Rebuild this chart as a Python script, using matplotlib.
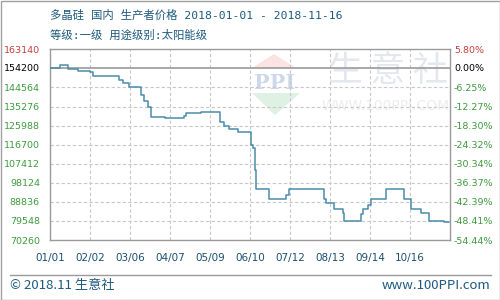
import matplotlib
matplotlib.use("Agg")
import matplotlib.pyplot as plt
from matplotlib.patches import Polygon, Rectangle
import pandas as pd

# ---- data ----
change_dates = ["01-01", "01-09", "01-15", "01-23", "02-02", "02-04", "02-25", "02-28",
                "03-05", "03-15", "03-17", "03-20", "03-23", "04-03", "04-18", "04-20",
                "05-02", "05-17", "05-20", "05-24", "05-31", "06-11", "06-12", "06-14",
                "06-15", "06-25", "07-09", "07-11", "08-08", "08-10", "08-16", "08-23",
                "08-24", "09-07", "09-08", "09-12", "09-15", "09-27", "10-11", "10-17",
                "10-25", "10-31", "11-12", "11-16"]
prices = [154200, 155350, 153550, 152800, 152100, 150000, 148200, 146600,
          144800, 140900, 138000, 135200, 130300, 129500, 130700, 132000,
          132500, 127900, 125900, 124300, 122800, 116500, 114900, 104400,
          95000, 90100, 92200, 95000, 90100, 88400, 85500, 83600,
          79700, 82900, 85200, 87300, 90100, 95000, 90100, 85200,
          83600, 79700, 78900, 78900]
base_value = 154200
y_ticks = [163140, 154200, 144564, 135276, 125988, 116700, 107412, 98124, 88836, 79548, 70260]
x_tick_labels = ["01/01", "02/02", "03/06", "04/07", "05/09", "06/10", "07/12", "08/13", "09/14", "10/16"]
title1 = "多晶硅 国内 生产者价格 2018-01-01 - 2018-11-16"
title2 = "等级:一级 用途级别:太阳能级"
footer_left = "© 2018.11 生意社"
footer_right = "www.100PPI.com"

plt.rcParams['font.family'] = ['Noto Sans CJK SC', 'DejaVu Sans']

W, H = 500, 300
fig = plt.figure(figsize=(5, 3), dpi=100)
fig.patch.set_facecolor("white")

def fx(x):
    return x / W

def fy(y):
    return 1 - y / H

# background / watermark layer in pixel coordinates
wm_ax = fig.add_axes([0, 0, 1, 1], zorder=0)
wm_ax.set_xlim(0, W)
wm_ax.set_ylim(H, 0)
wm_ax.axis("off")
wm_ax.add_patch(Polygon([[274, 54], [252, 68], [296, 68]], closed=True, color="#fbe3e1", lw=0))
wm_ax.add_patch(Polygon([[252, 93], [300, 93], [275, 115]], closed=True, color="#dff1e3", lw=0))
wm_ax.text(275, 83, "PPI", ha="center", va="center", fontsize=15, color="#cfd8ea",
           family="DejaVu Serif", fontweight="bold")
wm_ax.text(388, 72, "生 意 社", ha="center", va="center", fontsize=25, color="#e3e7ee")
wm_ax.text(386, 106, "WWW.100PPI.COM", ha="center", va="center", fontsize=10, color="#ededed",
           family="DejaVu Sans")

ax = fig.add_axes([fx(50), fy(240), fx(450) - fx(50), fy(49.3) - fy(240)], zorder=2)
ax.patch.set_alpha(0)

dates = pd.to_datetime(["2018-" + d for d in change_dates])
ax.step(dates, prices, where="post", color="#4a8cab", lw=1.1, zorder=4)

start = pd.Timestamp("2018-01-01")
end = pd.Timestamp("2018-11-17")
ax.set_xlim(start, end)
ax.set_ylim(y_ticks[-1], y_ticks[0])

xt = [start + pd.Timedelta(days=32 * i) for i in range(len(x_tick_labels))]
ax.set_xticks(xt)
ax.set_xticklabels(x_tick_labels)
ax.set_yticks(y_ticks)
ax.set_yticklabels([f"{v}" for v in y_ticks])

for t in xt[1:]:
    ax.axvline(t, color="#c8c8c8", lw=0.8, ls=(0, (3, 2)), zorder=1)
for v in y_ticks[2:-1]:
    ax.axhline(v, color="#c8c8c8", lw=0.8, ls=(0, (3, 2)), zorder=1)
ax.axhline(base_value, color="#9a9a9a", lw=1.2, zorder=2)

for s in ax.spines.values():
    s.set_color("#9a9a9a")
    s.set_linewidth(1.0)

ax.tick_params(axis="both", length=0)
ax.tick_params(axis="y", pad=7.2, labelsize=6.8)
ax.tick_params(axis="x", pad=9.5, labelsize=7.5, labelcolor="#1b4f72")
for lab in ax.get_xticklabels():
    lab.set_family("DejaVu Sans")

def label_color(i):
    if i == 0:
        return "#c83c3c"
    if i == 1:
        return "#000000"
    return "#3c9a3c"

for i, lab in enumerate(ax.get_yticklabels()):
    lab.set_color(label_color(i))
    lab.set_family("DejaVu Sans")

ax2 = ax.twinx()
ax2.set_ylim(ax.get_ylim())
ax2.set_yticks(y_ticks)
ax2.set_yticklabels([f"{(v / base_value - 1) * 100:.2f}%" for v in y_ticks])
ax2.tick_params(axis="y", length=0, pad=2.9, labelsize=6.8)
for s in ax2.spines.values():
    s.set_visible(False)
for i, lab in enumerate(ax2.get_yticklabels()):
    lab.set_color(label_color(i))
    lab.set_family("DejaVu Sans")

# titles
tcol = "#1d5a7e"
title_fam = ["DejaVu Sans Mono", "Noto Sans CJK SC"]
fig.text(fx(50), fy(15), title1, ha="left", va="center", fontsize=8.2, color=tcol,
         family=title_fam)
fig.text(fx(50), fy(35), title2, ha="left", va="center", fontsize=8.2, color=tcol,
         family=title_fam)

# footer
wm_ax.plot([10, 491], [275, 275], color="#9a9a9a", lw=1.0)
fig.text(fx(10), fy(285.5), footer_left, ha="left", va="center", fontsize=9.5, color=tcol)
fig.text(fx(490), fy(285.5), footer_right, ha="right", va="center", fontsize=9.5, color=tcol)

# outer border
wm_ax.add_patch(Rectangle((0.5, 0.5), W - 1, H - 1, fill=False, ec="#a0a0a0", lw=1.0))

fig.savefig("out.png", dpi=100)
